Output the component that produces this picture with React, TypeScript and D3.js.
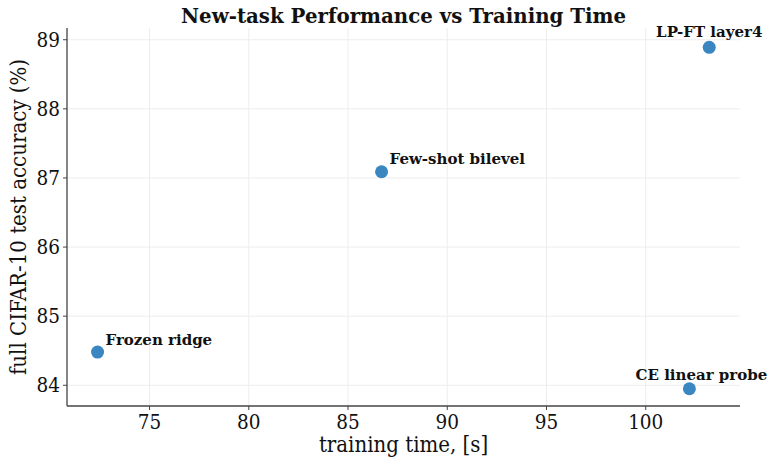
import React from "react";
import * as d3 from "d3";

const methods = ["Frozen ridge", "Few-shot bilevel", "LP-FT layer4", "CE linear probe"];
const trainingTime = [72.38, 86.69, 103.2, 102.2];
const accuracy = [84.48, 87.09, 88.89, 83.95];
const labelAnchor = ["start", "start", "middle", "middle"];
const labelDx = [8, 8, 0, 12];
const labelDy = [-7, -8, -10, -9];
const xTicks = [75, 80, 85, 90, 95, 100];
const yTicks = [84, 85, 86, 87, 88, 89];

export default function App() {
  const W = 769, H = 457;
  const left = 67, right = 740, top = 28, bottom = 406;
  const x = d3.scaleLinear().domain([70.84, 104.75]).range([left, right]);
  const y = d3.scaleLinear().domain([83.70, 89.17]).range([bottom, top]);
  const font = "'DejaVu Serif', serif";
  const cond = "'DejaVu Serif Condensed', 'DejaVu Serif', serif";
  return (
    <svg width={W} height={H} style={{ position: "absolute", left: 0, top: 0, background: "#fff" }}>
      <text x={(left + right) / 2} y={23} textAnchor="middle" fontFamily={font} fontWeight="bold" fontSize={19.8} fill="#111">
        New-task Performance vs Training Time
      </text>
      {xTicks.map((t) => (
        <line key={"gx" + t} x1={x(t)} x2={x(t)} y1={top} y2={bottom} stroke="#ebebeb" strokeWidth={0.9} />
      ))}
      {yTicks.map((t) => (
        <line key={"gy" + t} x1={left} x2={right} y1={y(t)} y2={y(t)} stroke="#ebebeb" strokeWidth={0.9} />
      ))}
      <line x1={left} x2={left} y1={top} y2={bottom} stroke="#444" strokeWidth={1.3} />
      <line x1={left} x2={right} y1={bottom} y2={bottom} stroke="#444" strokeWidth={1.3} />
      {xTicks.map((t) => (
        <g key={"tx" + t}>
          <line x1={x(t)} x2={x(t)} y1={bottom} y2={bottom + 4} stroke="#444" strokeWidth={1} />
          <text x={x(t)} y={bottom + 23} textAnchor="middle" fontFamily={cond} fontSize={20.5} fill="#111">{t}</text>
        </g>
      ))}
      {yTicks.map((t) => (
        <g key={"ty" + t}>
          <line x1={left - 4} x2={left} y1={y(t)} y2={y(t)} stroke="#444" strokeWidth={1} />
          <text x={left - 7} y={y(t) + 7} textAnchor="end" fontFamily={cond} fontSize={20.5} fill="#111">{t}</text>
        </g>
      ))}
      <text x={(left + right) / 2} y={452} textAnchor="middle" fontFamily={cond} fontSize={22} fill="#111">
        training time, [s]
      </text>
      <text transform={`translate(26, ${(top + bottom) / 2}) rotate(-90)`} textAnchor="middle" fontFamily={cond} fontSize={22} fill="#111">
        full CIFAR-10 test accuracy (%)
      </text>
      {methods.map((m, i) => (
        <g key={m}>
          <circle cx={x(trainingTime[i])} cy={y(accuracy[i])} r={6.5} fill="#3a86c0" />
          <text x={x(trainingTime[i]) + labelDx[i]} y={y(accuracy[i]) + labelDy[i]} textAnchor={labelAnchor[i]} fontFamily={font} fontWeight="bold" fontSize={15} fill="#111">
            {m}
          </text>
        </g>
      ))}
    </svg>
  );
}
